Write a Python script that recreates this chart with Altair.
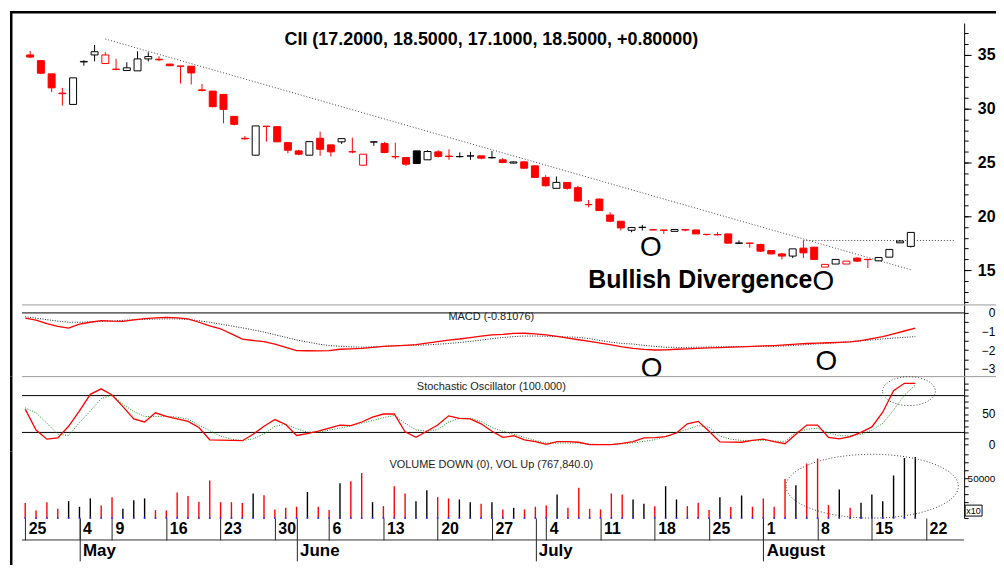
import altair as alt
import pandas as pd

# ---------------- data ----------------
OPEN = [35.0, 34.47, 33.24, 31.45, 30.4, 34.35, 35.0, 34.2, 33.68, 33.55,
        33.52, 34.63, 34.6, 34.15, 33.97, 33.95, 31.75, 31.64, 31.33, 29.29,
        27.25, 25.68, 28.37, 28.33, 26.85, 26.08, 25.68, 27.25, 26.64, 26.92,
        26.0, 24.75, 26.9, 26.76, 25.55, 25.46, 26.08, 25.25, 25.99, 25.6,
        25.54, 25.6, 25.62, 25.44, 25.25, 24.95, 25.06, 24.69, 23.61, 22.6,
        23.15, 22.66, 21.1, 21.6, 20.12, 19.54, 18.7, 18.96, 18.75, 18.72,
        18.6, 18.76, 18.73, 18.32, 18.3, 18.36, 17.48, 17.51, 17.38, 16.82,
        16.5, 16.3, 17.04, 17.13, 15.28, 15.56, 15.56, 16.11, 16.0, 15.86,
        16.2, 17.53, 17.2]
HIGH = [35.37, 34.47, 33.24, 31.94, 32.87, 34.5, 35.93, 35.25, 34.63, 34.32,
        35.34, 35.25, 34.88, 34.15, 33.97, 33.95, 32.3, 31.64, 31.33, 29.29,
        27.47, 28.4, 28.37, 28.33, 26.85, 26.18, 26.94, 27.87, 26.64, 27.22,
        27.31, 25.77, 26.95, 26.92, 26.85, 25.46, 26.08, 26.14, 26.14, 26.23,
        25.93, 25.99, 25.62, 26.08, 25.4, 25.1, 25.1, 24.75, 23.82, 23.7,
        23.15, 22.84, 21.51, 21.65, 20.37, 19.54, 18.98, 19.2, 18.78, 18.74,
        18.77, 18.78, 18.73, 18.35, 18.52, 18.36, 17.75, 17.52, 17.44, 16.82,
        16.6, 16.97, 17.75, 17.15, 15.53, 15.99, 15.83, 16.2, 16.0, 16.17,
        16.92, 17.78, 18.5]
LOW = [34.7, 33.2, 31.55, 30.3, 30.4, 34.0, 34.4, 34.2, 33.58, 33.55,
       33.52, 34.4, 34.42, 33.95, 32.34, 32.25, 31.6, 30.12, 28.64, 28.45,
       27.1, 25.68, 26.94, 26.92, 25.86, 25.68, 25.68, 25.62, 25.55, 26.73,
       25.86, 24.75, 26.55, 25.86, 25.31, 24.69, 24.91, 25.25, 25.46, 25.25,
       25.46, 25.25, 25.31, 25.37, 24.93, 24.9, 24.4, 23.55, 22.75, 22.6,
       22.47, 21.36, 20.83, 20.5, 19.44, 18.68, 18.52, 18.68, 18.7, 18.36,
       18.58, 18.6, 18.36, 18.21, 18.21, 17.5, 17.44, 17.07, 16.67, 16.45,
       15.99, 16.11, 16.11, 15.95, 15.28, 15.56, 15.56, 15.74, 15.19, 15.86,
       16.2, 17.53, 17.1]
CLOSE = [34.8, 33.3, 31.94, 31.4, 32.87, 34.4, 35.3, 35.0, 33.65, 33.8,
         34.63, 34.85, 34.55, 34.0, 33.95, 33.33, 31.7, 30.19, 29.94, 28.55,
         27.2, 28.4, 28.36, 26.92, 26.14, 25.77, 26.94, 26.23, 25.99, 27.22,
         25.99, 25.77, 26.92, 25.93, 25.53, 24.84, 24.91, 26.02, 25.56, 25.55,
         25.56, 25.62, 25.4, 25.46, 25.0, 25.05, 24.47, 23.61, 22.84, 23.15,
         22.6, 21.42, 21.08, 20.53, 19.54, 18.92, 18.95, 18.98, 18.73, 18.7,
         18.77, 18.72, 18.36, 18.3, 18.28, 17.5, 17.52, 17.49, 16.76, 16.5,
         16.3, 16.97, 16.6, 15.99, 15.53, 15.99, 15.83, 15.83, 15.97, 16.17,
         16.92, 17.7, 18.5]
# r = red (close below previous close), k = black
CANDLE_COLOR = list("rrrrkkkrrk" "kkrrrrrrrr" "rkrrrrkrrk" "rrkrrrkkrr"
                    "kkrkrkrrrk" "rrrrrrkkrr" "krrrrrkrrr" "rkrrrkrrrk" "kkk")
VOLUME = [188000, 96000, 200000, 116000, 213000, 142000, 247000, 159000, 263000, 116000,
          225000, 247000, 100000, 96000, 322000, 276000, 204000, 472000, 200000, 200000,
          188000, 309000, 288000, 109000, 129000, 142000, 329000, 142000, 100000, 438000,
          463000, 567000, 200000, 150000, 401000, 309000, 213000, 351000, 263000, 247000,
          234000, 200000, 179000, 200000, 109000, 129000, 109000, 142000, 159000, 297000,
          129000, 380000, 116000, 109000, 309000, 297000, 234000, 179000, 150000, 401000,
          234000, 150000, 192000, 100000, 263000, 138000, 284000, 142000, 247000, 142000,
          492000, 413000, 685000, 748000, 163000, 359000, 129000, 192000, 297000, 213000,
          535000, 755000, 767840]
VOL_COLOR = list("rrrrkkkrrk" "kkrrrrrrrr" "rkrrrrkrrk" "rrkrrrkkrr"
                 "kkrkrkrrrk" "rrrrrrkkrk" "krrrkrkrrr" "rkrrrkrkkk" "kkk")
MACD = [-0.28, -0.38, -0.57, -0.72, -0.81, -0.6, -0.5, -0.41, -0.44, -0.45,
        -0.37, -0.3, -0.26, -0.24, -0.26, -0.32, -0.5, -0.7, -0.85, -1.12,
        -1.41, -1.48, -1.54, -1.68, -1.85, -2.02, -2.03, -2.04, -2.02, -1.95,
        -1.93, -1.9, -1.85, -1.8, -1.77, -1.74, -1.7, -1.62, -1.54, -1.46,
        -1.4, -1.32, -1.25, -1.18, -1.15, -1.1, -1.09, -1.12, -1.18, -1.26,
        -1.35, -1.44, -1.53, -1.62, -1.72, -1.82, -1.9, -1.96, -1.99, -1.98,
        -1.95, -1.93, -1.9, -1.88, -1.86, -1.84, -1.82, -1.8, -1.77, -1.75,
        -1.72, -1.68, -1.64, -1.62, -1.6, -1.58, -1.55, -1.49, -1.38, -1.27,
        -1.12, -0.97, -0.81]
SIGNAL = [-0.2, -0.28, -0.36, -0.44, -0.5, -0.5, -0.48, -0.46, -0.43, -0.4,
          -0.37, -0.35, -0.33, -0.32, -0.32, -0.35, -0.42, -0.5, -0.6, -0.7,
          -0.8, -0.91, -1.03, -1.17, -1.31, -1.45, -1.56, -1.67, -1.75, -1.79,
          -1.82, -1.84, -1.82, -1.8, -1.76, -1.74, -1.73, -1.72, -1.68, -1.64,
          -1.59, -1.53, -1.46, -1.38, -1.32, -1.27, -1.24, -1.24, -1.25, -1.27,
          -1.29, -1.31, -1.38, -1.48, -1.57, -1.64, -1.67, -1.74, -1.8, -1.84,
          -1.85, -1.85, -1.84, -1.83, -1.82, -1.81, -1.8, -1.8, -1.8, -1.79,
          -1.77, -1.74, -1.7, -1.66, -1.63, -1.59, -1.54, -1.5, -1.45, -1.4,
          -1.35, -1.31, -1.27]
STOCH_K = [58, 24, 9, 11, 30, 55, 82, 91, 81, 62,
           42, 37, 52, 46, 42, 38, 28, 8, 7.5, 7,
           6.5, 17, 30, 41, 33, 15, 18, 22, 27, 32,
           31, 37, 45, 50, 50, 21, 12, 22, 32, 47,
           43, 42, 34, 22, 12, 14.6, 8, 5, 0.5, 5,
           5, 4, 0, 0, 0, 2, 5, 11, 11.5, 13,
           19, 34, 38, 22, 4.5, 4.2, 4, 7, 9, 5,
           1.6, 17, 32, 32, 12, 9.5, 13, 20, 29, 53,
           88, 100, 100]
STOCH_D = [60, 52, 35, 17, 15, 36, 55, 75, 81, 66,
           54, 46, 46, 46.5, 45, 41.6, 32, 23, 14, 9,
           6.8, 9.5, 17.5, 30, 33.5, 26, 20.5, 20.3, 23.7, 27,
           30.8, 35, 39.5, 44, 47.6, 35, 24, 22, 24.5, 37,
           43, 43.2, 38, 28, 22, 17, 12, 7, 2.7, 2.7,
           2.7, 2.7, 1, 0.5, 0.5, 1.5, 3, 5.5, 8, 13.5,
           20, 25, 31, 28.6, 14, 9, 7, 7, 7, 6,
           5.4, 20, 25, 27, 19.5, 14.5, 14.5, 17, 23.6, 34.6,
           56.7, 81, 97]

WEEK_TICKS = [0, 5, 8, 13, 18, 23, 28, 33, 38, 43, 48, 53, 58, 63, 68, 73, 78, 83]
WEEK_LABELS = ['25', '4', '9', '16', '23', '30', '6', '13', '20', '27',
               '4', '11', '18', '25', '1', '8', '15', '22']
MONTH_TICKS = [5, 25, 47, 68]
MONTH_LABELS = ['May', 'June', 'July', 'August']

TITLE = 'CII (17.2000, 18.5000, 17.1000, 18.5000, +0.80000)'
MACD_TITLE = 'MACD (-0.81076)'
STOCH_TITLE = 'Stochastic Oscillator (100.000)'
VOL_TITLE = 'VOLUME DOWN (0), VOL Up (767,840.0)'

# trend line and resistance (index, price)
TREND_I = [7, 82]
TREND_P = [36.48, 15.03]
RESIST_I = [72, 86]
RESIST_P = [17.75, 17.75]

# ---------------- styling / layout ----------------
FONT = 'Liberation Sans'
RED, BLACK = '#ff0000', '#000000'
CMAP = {'r': RED, 'k': BLACK}
W = 946
H_PRICE, H_MACD, H_STOCH, H_VOL = 283, 72, 75, 67
FX = -10.75   # frame line position relative to the plot's left / top edge

df = pd.DataFrame({
    'i': list(range(len(CLOSE))), 'open': OPEN, 'high': HIGH, 'low': LOW, 'close': CLOSE,
    'ccol': [CMAP[c] for c in CANDLE_COLOR], 'vol': VOLUME,
    'vcol': [CMAP[c] for c in VOL_COLOR], 'macd': MACD, 'signal': SIGNAL,
    'k': STOCH_K, 'd': STOCH_D})
df['fcol'] = [c if cl < op else '#ffffff' for c, op, cl in zip(df.ccol, df.open, df.close)]
df['vol10'] = df['vol'] / 10.0          # the volume axis is labelled in units of x10

one = pd.DataFrame({'a': [0]})
xs = alt.Scale(domain=[-0.3, 86.5], nice=False, zero=False)


def X(axis=None):
    return alt.X('i:Q', scale=xs, axis=axis)


def frame_left(y0, y1):
    return alt.Chart(one).mark_rule(color=BLACK, strokeWidth=2.5).encode(
        x=alt.value(FX), y=alt.value(y0), y2=alt.value(y1))


def separator():
    return alt.Chart(one).mark_rule(color='#9a9a9a', strokeWidth=1).encode(
        x=alt.value(0), x2=alt.value(1000), y=alt.value(0))


def label_expr(ticks, labels):
    expr = "''"
    for t, l in reversed(list(zip(ticks, labels))):
        expr = f"datum.value == {t} ? '{l}' : ({expr})"
    return expr


def ellipse_path(ratio):
    return f"M -1 0 A 1 {ratio} 0 1 1 1 0 A 1 {ratio} 0 1 1 -1 0 Z"


def label_axis(values, pad=27, align='right', size=12, weight='normal', tick=4, fmt=None):
    kw = dict(orient='right', values=values, tickSize=tick, tickColor=BLACK,
              domainColor=BLACK, labelAlign=align, labelPadding=pad, labelFontSize=size,
              labelFontWeight=weight, labelColor=BLACK, labelBaseline='middle',
              labelFlush=False, labelOverlap=False, grid=False, title=None)
    if fmt:
        kw['format'] = fmt
    return alt.Axis(**kw)


def tick_axis(values, tick=4):
    return alt.Axis(orient='right', values=values, tickSize=tick, tickColor=BLACK,
                    labels=False, domain=False, grid=False, title=None)


# ---------------- price panel ----------------
ps = alt.Scale(domain=[11.759, 37.963], nice=False, zero=False)
major_axis = label_axis([15, 20, 25, 30, 35], pad=24, size=16, weight='bold', tick=7)
minor_axis = tick_axis(list(range(12, 38)))

frame_top = alt.Chart(one).mark_rule(color=BLACK, strokeWidth=2.5).encode(
    x=alt.value(FX - 1.25), x2=alt.value(1000), y=alt.value(FX))
trend = alt.Chart(pd.DataFrame({'i': TREND_I, 'p': TREND_P})).mark_line(
    color='#444444', strokeWidth=1, strokeDash=[1, 2]).encode(
    x=X(), y=alt.Y('p:Q', scale=ps, axis=None))
resist = alt.Chart(pd.DataFrame({'i': RESIST_I, 'p': RESIST_P})).mark_line(
    color='#444444', strokeWidth=1, strokeDash=[1, 2]).encode(
    x=X(), y=alt.Y('p:Q', scale=ps, axis=None))
wicks = alt.Chart(df).mark_rule(strokeWidth=1).encode(
    x=X(), y=alt.Y('low:Q', scale=ps, axis=minor_axis), y2='high:Q',
    color=alt.Color('ccol:N', scale=None))
bodies = alt.Chart(df).mark_bar(size=7, strokeWidth=1).encode(
    x=X(), y=alt.Y('open:Q', scale=ps, axis=major_axis), y2='close:Q',
    fill=alt.Fill('fcol:N', scale=None), stroke=alt.Stroke('ccol:N', scale=None))
title_txt = alt.Chart(pd.DataFrame({'i': [42.94], 'p': [35.95], 't': [TITLE]})).mark_text(
    fontSize=18, fontWeight='bold', color=BLACK, align='center', baseline='alphabetic').encode(
    x=X(), y=alt.Y('p:Q', scale=ps, axis=None), text='t:N')
bull_txt = alt.Chart(pd.DataFrame({'i': [62.4], 'p': [13.33], 't': ['Bullish Divergence']})).mark_text(
    fontSize=25, fontWeight='bold', color=BLACK, align='center', baseline='alphabetic').encode(
    x=X(), y=alt.Y('p:Q', scale=ps, axis=None), text='t:N')
o_price = alt.Chart(pd.DataFrame({'i': [57.8, 73.85], 'p': [16.34, 13.19], 't': ['O', 'O']})).mark_text(
    fontSize=28, color=BLACK, align='center', baseline='alphabetic').encode(
    x=X(), y=alt.Y('p:Q', scale=ps, axis=None), text='t:N')

price = alt.layer(frame_left(FX - 1.25, H_PRICE), frame_top, trend, resist, wicks, bodies,
                  title_txt, bull_txt, o_price).properties(
    width=W, height=H_PRICE).resolve_axis(y='independent')

# ---------------- MACD panel ----------------
ms = alt.Scale(domain=[-3.42, 0.43], nice=False, zero=False)
zero_rule = alt.Chart(one).mark_rule(color=BLACK, strokeWidth=1).encode(
    y=alt.YDatum(0, scale=ms, axis=None))
signal_line = alt.Chart(df).mark_line(color='#222222', strokeWidth=1, strokeDash=[1, 1.5]).encode(
    x=X(), y=alt.Y('signal:Q', scale=ms, axis=tick_axis([-2.5, -1.5, -0.5])))
macd_line = alt.Chart(df).mark_line(color=RED, strokeWidth=1.3).encode(
    x=X(), y=alt.Y('macd:Q', scale=ms, axis=label_axis([-3, -2, -1, 0], fmt='d')))
macd_lbl = alt.Chart(pd.DataFrame({'i': [42.94], 'v': [-0.37], 't': [MACD_TITLE]})).mark_text(
    fontSize=11, color='#222222', align='center', baseline='alphabetic').encode(
    x=X(), y=alt.Y('v:Q', scale=ms, axis=None), text='t:N')
o_macd = alt.Chart(pd.DataFrame({'i': [57.7, 73.8], 'v': [-3.43, -3.05], 't': ['O', 'O']})).mark_text(
    fontSize=28, color=BLACK, align='center', baseline='alphabetic').encode(
    x=X(), y=alt.Y('v:Q', scale=ms, axis=None), text='t:N')
macd = alt.layer(frame_left(0, H_MACD), separator(), zero_rule, signal_line, macd_line,
                 macd_lbl, o_macd).properties(width=W, height=H_MACD).resolve_axis(y='independent')

# ---------------- Stochastic panel ----------------
ss = alt.Scale(domain=[-10.8, 110.9], nice=False, zero=False)
r80 = alt.Chart(one).mark_rule(color=BLACK, strokeWidth=1).encode(y=alt.YDatum(80, scale=ss, axis=None))
r20 = alt.Chart(one).mark_rule(color=BLACK, strokeWidth=1).encode(y=alt.YDatum(20, scale=ss, axis=None))
d_line = alt.Chart(df).mark_line(color='#228b22', strokeWidth=1, strokeDash=[1, 1.5]).encode(
    x=X(), y=alt.Y('d:Q', scale=ss, axis=tick_axis([10, 20, 30, 40, 60, 70, 80, 90, 100])))
k_line = alt.Chart(df).mark_line(color=RED, strokeWidth=1.3).encode(
    x=X(), y=alt.Y('k:Q', scale=ss, axis=label_axis([0, 50], fmt='d')))
stoch_lbl = alt.Chart(pd.DataFrame({'i': [42.94], 'v': [89.7], 't': [STOCH_TITLE]})).mark_text(
    fontSize=11, color='#222222', align='center', baseline='alphabetic').encode(
    x=X(), y=alt.Y('v:Q', scale=ss, axis=None), text='t:N')
stoch_ell = alt.Chart(pd.DataFrame({'i': [81.42], 'v': [87.3]})).mark_point(
    shape=ellipse_path(0.547), size=2809, filled=False, color='#444444', strokeWidth=1,
    strokeDash=[1, 2], opacity=1).encode(x=X(), y=alt.Y('v:Q', scale=ss, axis=None))
stoch = alt.layer(frame_left(0, H_STOCH), separator(), r80, r20, d_line, k_line,
                  stoch_lbl, stoch_ell).properties(width=W, height=H_STOCH).resolve_axis(y='independent')

# ---------------- Volume panel + date axis ----------------
vs = alt.Scale(domain=[0, 83924.2], nice=False, zero=False)
week_axis = alt.Axis(orient='bottom', values=WEEK_TICKS, labelExpr=label_expr(WEEK_TICKS, WEEK_LABELS),
                     tickSize=22, tickColor='#222222', domain=False, labelAlign='left', labelOffset=3,
                     labelPadding=-11, labelBaseline='middle', labelFontSize=16,
                     labelFontWeight='bold', labelColor=BLACK, labelFlush=False,
                     labelOverlap=False, grid=False, title=None)
month_axis = alt.Axis(orient='bottom', values=MONTH_TICKS, labelExpr=label_expr(MONTH_TICKS, MONTH_LABELS),
                      tickSize=43, tickColor='#222222', domain=False, labelAlign='left', labelOffset=3,
                      labelPadding=-10, labelBaseline='middle', labelFontSize=17,
                      labelFontWeight='bold', labelColor=BLACK, labelFlush=False,
                      labelOverlap=False, grid=False, title=None)
vol_bars = alt.Chart(df).mark_rule(strokeWidth=1.4).encode(
    x=X(week_axis),
    y=alt.Y('vol10:Q', scale=vs, axis=label_axis([50000], pad=-1, align='left', size=10, fmt='d')),
    y2=alt.datum(0), color=alt.Color('vcol:N', scale=None))
vol_dots = alt.Chart(df).mark_square(size=3, color='#3030ff', opacity=1).encode(
    x=X(month_axis), y=alt.YDatum(0, scale=vs, axis=None))
axis_line = alt.Chart(one).mark_rule(color='#333333', strokeWidth=1).encode(
    x=alt.value(0), x2=alt.value(W), y=alt.value(H_VOL + 22))
vol_ell = alt.Chart(pd.DataFrame({'i': [78.03], 'v': [40080]})).mark_point(
    shape=ellipse_path(0.37), size=29929, filled=False, color='#444444', strokeWidth=1,
    strokeDash=[1, 2], opacity=1).encode(
    x=X(), y=alt.Y('v:Q', scale=vs,
                   axis=tick_axis([0, 10000, 20000, 30000, 40000, 60000, 70000, 80000])))
vol_lbl = alt.Chart(pd.DataFrame({'i': [42.94], 'v': [63250], 't': [VOL_TITLE]})).mark_text(
    fontSize=11, color='#222222', align='center', baseline='alphabetic').encode(
    x=X(), y=alt.Y('v:Q', scale=vs, axis=None), text='t:N')
x10_box = alt.Chart(one).mark_rect(fill='white', stroke=BLACK, strokeWidth=1).encode(
    x=alt.value(W + 1), x2=alt.value(W + 18), y=alt.value(H_VOL - 13), y2=alt.value(H_VOL - 2))
x10_txt = alt.Chart(one).mark_text(text='x10', fontSize=9, color=BLACK, align='center',
                                   baseline='middle').encode(
    x=alt.value(W + 9.5), y=alt.value(H_VOL - 7.5))
vol = alt.layer(frame_left(0, H_VOL + 60), vol_bars, vol_dots, axis_line, vol_ell, vol_lbl,
                x10_box, x10_txt).properties(width=W, height=H_VOL).resolve_axis(
    x='independent', y='independent')

chart = alt.vconcat(price, macd, stoch, vol, spacing=0, bounds='flush').properties(
    padding={'left': 0, 'top': 0, 'right': -24, 'bottom': -16}
).configure(font=FONT).configure_view(stroke=None).configure_axis(labelFont=FONT)

chart.save("out.html", embed_options={"renderer": "svg", "actions": False})
